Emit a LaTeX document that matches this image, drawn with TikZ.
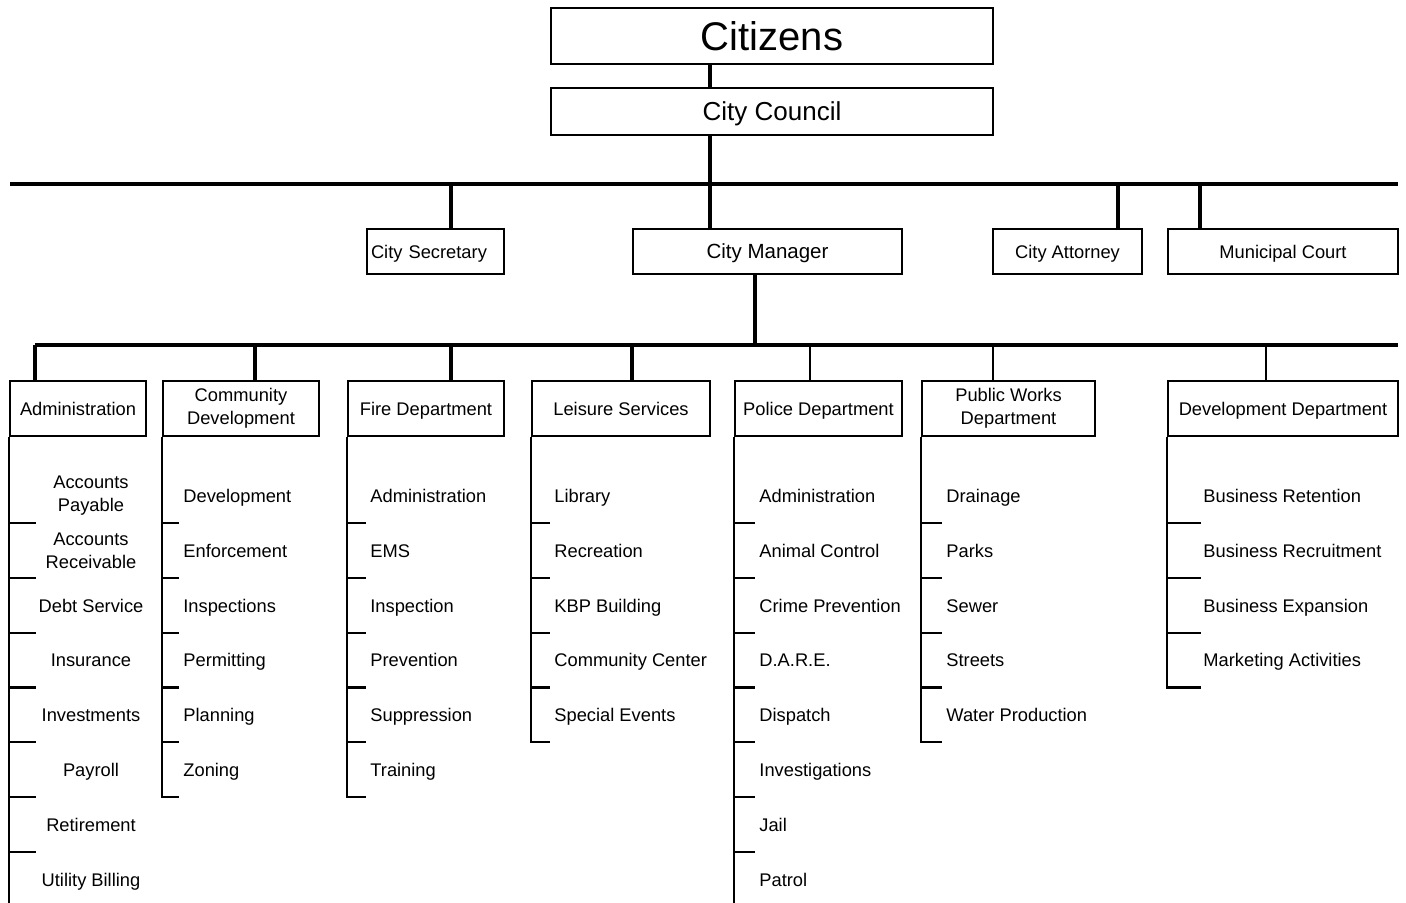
\documentclass[tikz,border=0pt]{standalone}
\usepackage{fontspec}
\setmainfont{Liberation Sans}
\begin{document}
\begin{tikzpicture}[x=0.5pt,y=-0.5pt,
  box/.style={draw, line width=1.1pt, inner sep=0pt, align=center},
  small/.style={font=\fontsize{9.15}{11.5}\selectfont},
  one/.style={text height=6.55pt, text depth=0pt},
  dept/.style={box, small, minimum height=27.5pt},
  item/.style={small, inner sep=0pt, anchor=base west},
  citem/.style={small, inner sep=0pt, align=center},
  bus/.style={line width=2.4pt},
  tdrop/.style={line width=2.3pt},
  ndrop/.style={line width=1.1pt},
  list/.style={line width=1.1pt},
]
\useasboundingbox (0,0) rectangle (1406,902);

% top boxes
\node[box, minimum width=221pt, minimum height=28pt, font=\fontsize{20}{24}\selectfont, text height=14.3pt, text depth=0pt] (cit) at (772,36) {Citizens};
\node[box, minimum width=221pt, minimum height=23.5pt, font=\fontsize{13}{16}\selectfont, text height=9.3pt, text depth=0pt] (council) at (772,111.5) {City Council};
\node[box, small, one, minimum height=22.5pt, minimum width=68.5pt, text width=64.5pt, inner xsep=2pt, align=left] (sec) at (435.5,251.5) {City Secretary};
\node[box, minimum width=134.5pt, minimum height=22.5pt, font=\fontsize{10.25}{12}\selectfont, text height=7.34pt, text depth=0pt] (mgr) at (767.5,251.5) {City Manager};
\node[box, small, one, minimum width=74.5pt, minimum height=22.5pt] (att) at (1067.5,251.5) {City Attorney};
\node[box, small, one, minimum width=115pt, minimum height=22.5pt] (court) at (1283,251.5) {Municipal Court};

% departments
\node[dept, one, minimum width=68pt] (adm) at (78,408.5) {Administration};
\node[dept, minimum width=78pt] (cd) at (241,408.5) {Community\\Development};
\node[dept, one, minimum width=78pt] (fire) at (426,408.5) {Fire Department};
\node[dept, one, minimum width=89pt] (leis) at (621,408.5) {Leisure Services};
\node[dept, one, minimum width=83.5pt] (pol) at (818.5,408.5) {Police Department};
\node[dept, minimum width=86.5pt] (pw) at (1008.5,408.5) {Public Works\\Department};
\node[dept, one, minimum width=115pt] (dev) at (1283,408.5) {Development Department};

% upper connectors
\coordinate (j1) at (710,184);
\coordinate (tbL) at (10,184);
\coordinate (tbR) at (1398,184);
\draw[tdrop] (j1 |- cit.south) -- (j1 |- council.north);
\draw[tdrop] (j1 |- council.south) -- (j1);
\draw[bus] (tbL) -- (tbR);
\draw[tdrop] (j1) -- (j1 |- mgr.north);
\coordinate (jsec) at (451,184);
\draw[tdrop] (jsec) -- (jsec |- sec.north);
\coordinate (jatt) at (1118,184);
\draw[tdrop] (jatt) -- (jatt |- att.north);
\coordinate (jcourt) at (1200,184);
\draw[tdrop] (jcourt) -- (jcourt |- court.north);

% lower bus
\coordinate (j2) at (755,345);
\coordinate (bbL) at (35,345);
\coordinate (bbR) at (1398,345);
\draw[tdrop] (j2 |- mgr.south) -- (j2);
\draw[bus] (bbL) -- (bbR);
\foreach \n/\x/\s in {adm/35/tdrop, cd/255/tdrop, fire/451/tdrop, leis/632/tdrop, pol/810/ndrop, pw/993/ndrop, dev/1266/ndrop}{
  \coordinate (d\n) at (\x,345);
  \draw[\s] (d\n) -- (d\n |- \n.north);
}

% Administration list
\foreach \t [count=\i] in {{Accounts\\Payable},{Accounts\\Receivable}}
  \node[citem] (adm-\i) at (91,{441.2+54.8*\i}) {\t};
\foreach \t [count=\i from 3] in {Debt Service,Insurance,Investments,Payroll,Retirement,Utility Billing}
  \node[citem, one] (adm-\i) at (91,{441.2+54.8*\i}) {\t};
\foreach \i in {1,...,7}
  \draw[list] (adm.south west) ++(0,{31.2+54.8*\i}) -- ++(27,0);
\draw[list] (adm.south west) -- ++(0,466);

% Community Development list
\foreach \t [count=\i] in {Development,Enforcement,Inspections,Permitting,Planning,Zoning}
  \node[item] (cd-\i) at (183,{447.7+54.8*\i}) {\t};
\foreach \i in {1,...,5}
  \draw[list] (cd.south west) ++(0,{31.2+54.8*\i}) -- ++(17,0);
\draw[list] (cd.south west) -- ++(0,{31.2+54.8*6}) -- ++(17,0);

% Fire list
\foreach \t [count=\i] in {Administration,EMS,Inspection,Prevention,Suppression,Training}
  \node[item] (fire-\i) at (370,{447.7+54.8*\i}) {\t};
\foreach \i in {1,...,5}
  \draw[list] (fire.south west) ++(0,{31.2+54.8*\i}) -- ++(19,0);
\draw[list] (fire.south west) -- ++(0,{31.2+54.8*6}) -- ++(19,0);

% Leisure list
\foreach \t [count=\i] in {Library,Recreation,KBP Building,Community Center,Special Events}
  \node[item] (leis-\i) at (554,{447.7+54.8*\i}) {\t};
\foreach \i in {1,...,4}
  \draw[list] (leis.south west) ++(0,{31.2+54.8*\i}) -- ++(19,0);
\draw[list] (leis.south west) -- ++(0,{31.2+54.8*5}) -- ++(19,0);

% Police list
\foreach \t [count=\i] in {Administration,Animal Control,Crime Prevention,D.A.R.E.,Dispatch,Investigations,Jail,Patrol}
  \node[item] (pol-\i) at (759,{447.7+54.8*\i}) {\t};
\foreach \i in {1,...,7}
  \draw[list] (pol.south west) ++(0,{31.2+54.8*\i}) -- ++(21,0);
\draw[list] (pol.south west) -- ++(0,466);

% Public Works list
\foreach \t [count=\i] in {Drainage,Parks,Sewer,Streets,Water Production}
  \node[item] (pw-\i) at (946,{447.7+54.8*\i}) {\t};
\foreach \i in {1,...,4}
  \draw[list] (pw.south west) ++(0,{31.2+54.8*\i}) -- ++(21,0);
\draw[list] (pw.south west) -- ++(0,{31.2+54.8*5}) -- ++(21,0);

% Development list
\foreach \t [count=\i] in {Business Retention,Business Recruitment,Business Expansion,Marketing Activities}
  \node[item] (dev-\i) at (1203,{447.7+54.8*\i}) {\t};
\foreach \i in {1,...,3}
  \draw[list] (dev.south west) ++(0,{31.2+54.8*\i}) -- ++(34,0);
\draw[list] (dev.south west) -- ++(0,{31.2+54.8*4}) -- ++(34,0);
\end{tikzpicture}
\end{document}
